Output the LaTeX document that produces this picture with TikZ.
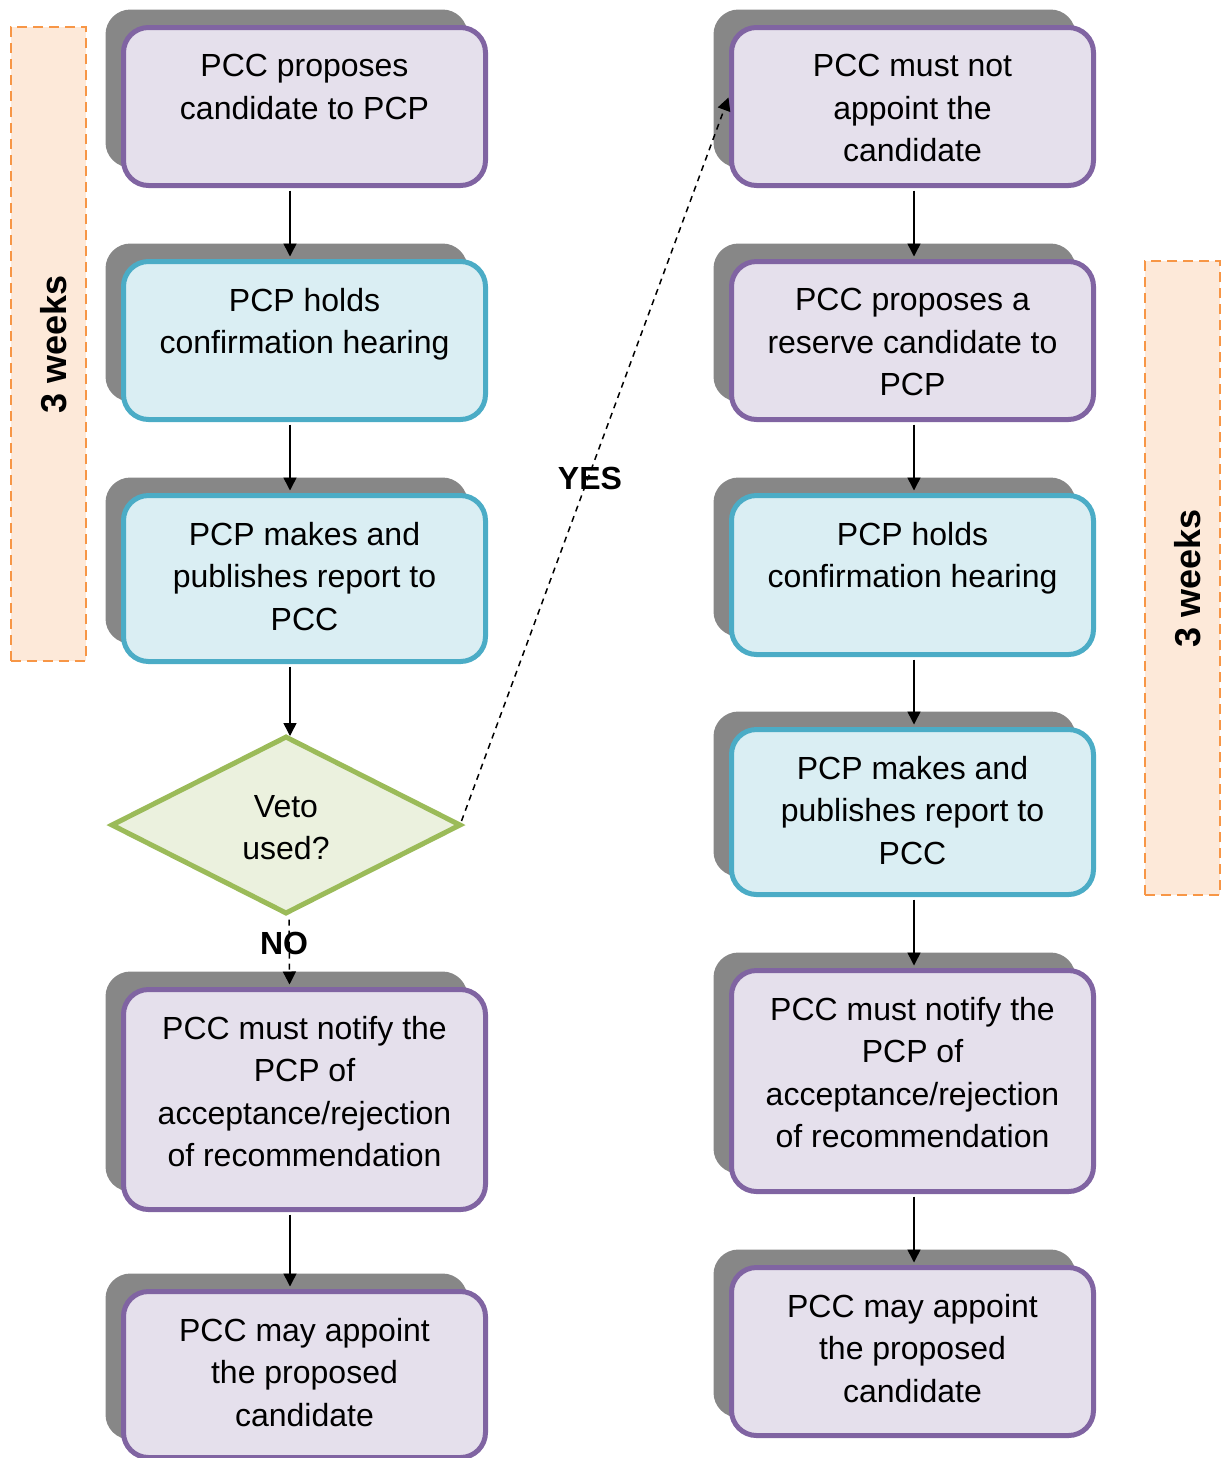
\documentclass[tikz,border=0pt]{standalone}
\usepackage{fontspec}
\setmainfont{Liberation Sans}
\usetikzlibrary{shapes.geometric,arrows.meta,shadows}
\definecolor{pstroke}{HTML}{8064A2}
\definecolor{pfill}{HTML}{E5E0EC}
\definecolor{bstroke}{HTML}{4BACC6}
\definecolor{bfill}{HTML}{DAEEF3}
\definecolor{gstroke}{HTML}{9BBB59}
\definecolor{gfill}{HTML}{EBF1DE}
\definecolor{ostroke}{HTML}{F79646}
\definecolor{ofill}{HTML}{FDE9D9}
\definecolor{shadowgray}{HTML}{878787}
\tikzset{
  flowbox/.style={rectangle, rounded corners=12.5pt, line width=2.5pt, minimum width=181pt, inner sep=0pt,
    general shadow={shadow xshift=-9pt, shadow yshift=9pt, fill=shadowgray}},
  purplebox/.style={flowbox, draw=pstroke, fill=pfill},
  bluebox/.style={flowbox, draw=bstroke, fill=bfill},
  decision/.style={diamond, draw=gstroke, fill=gfill, line width=2.5pt, inner sep=0pt, minimum width=175pt, minimum height=89pt},
  txt/.style={align=center, inner sep=0pt, font=\fontsize{16}{21.15}\selectfont},
  lbl/.style={inner sep=0pt, font=\fontsize{16}{19}\selectfont\bfseries},
  weekbox/.style={draw=ostroke, fill=ofill, line width=1pt, dash pattern=on 5pt off 3pt, inner sep=0pt, minimum width=37.5pt},
  weektxt/.style={inner sep=0pt, rotate=90, font=\fontsize{18}{20}\selectfont\bfseries},
  arr/.style={line width=0.75pt, -{Triangle[length=6.5pt,width=6.5pt]}},
  darr/.style={arr, dash pattern=on 3pt off 2.5pt},
}
\begin{document}
\begin{tikzpicture}[x=0.5pt,y=-0.5pt]
\useasboundingbox (0,0) rectangle (1221,1458);
\clip (0,0) rectangle (1221,1458);

% week brackets
\node[weekbox, minimum height=317pt] (W1) at (48,344) {};
\node[weektxt] (W1t) at (54,344) {3 weeks};
\node[weekbox, minimum height=317pt] (W2) at (1182.5,578) {};
\node[weektxt] (W2t) at (1188,578) {3 weeks};

% left column
\node[purplebox, minimum height=79pt] (L1) at (304.5,106.5) {};
\node[txt, anchor=north] (L1t) at ([yshift=-14.5pt]L1.north) {PCC proposes\\candidate to PCP};
\node[bluebox, minimum height=79pt] (L2) at (304.5,340.5) {};
\node[txt, anchor=north] (L2t) at ([yshift=-14.5pt]L2.north) {PCP holds\\confirmation hearing};
\node[bluebox, minimum height=83pt] (L3) at (304.5,578.5) {};
\node[txt, anchor=north] (L3t) at ([yshift=-14.5pt]L3.north) {PCP makes and\\publishes report to\\PCC};
\node[decision] (D) at (286,825) {};
\node[txt] (Dt) at (286,827.5) {Veto\\used?};
\node[purplebox, minimum height=110pt] (L4) at (304.5,1099.5) {};
\node[txt, anchor=north] (L4t) at ([yshift=-14.5pt]L4.north) {PCC must notify the\\PCP of\\acceptance/rejection\\of recommendation};
\node[purplebox, minimum height=83pt] (L5) at (304.5,1374.5) {};
\node[txt, anchor=north] (L5t) at ([yshift=-14.5pt]L5.north) {PCC may appoint\\the proposed\\candidate};

% right column
\node[purplebox, minimum height=79pt] (R1) at (912.5,106.5) {};
\node[txt, anchor=north] (R1t) at ([yshift=-14.5pt]R1.north) {PCC must not\\appoint the\\candidate};
\node[purplebox, minimum height=79pt] (R2) at (912.5,340.5) {};
\node[txt, anchor=north] (R2t) at ([yshift=-14.5pt]R2.north) {PCC proposes a\\reserve candidate to\\PCP};
\node[bluebox, minimum height=79.5pt] (R3) at (912.5,575) {};
\node[txt, anchor=north] (R3t) at ([yshift=-14.5pt]R3.north) {PCP holds\\confirmation hearing};
\node[bluebox, minimum height=82.5pt] (R4) at (912.5,812) {};
\node[txt, anchor=north] (R4t) at ([yshift=-14.5pt]R4.north) {PCP makes and\\publishes report to\\PCC};
\node[purplebox, minimum height=110.5pt] (R5) at (912.5,1081) {};
\node[txt, anchor=north] (R5t) at ([yshift=-14.5pt]R5.north) {PCC must notify the\\PCP of\\acceptance/rejection\\of recommendation};
\node[purplebox, minimum height=84pt] (R6) at (912.5,1351.5) {};
\node[txt, anchor=north] (R6t) at ([yshift=-14.5pt]R6.north) {PCC may appoint\\the proposed\\candidate};

% left connectors
\draw[arr] ([xshift=-7.25pt,yshift=-1.25pt]L1.south) -- ([xshift=-7.25pt,yshift=1.25pt]L2.north);
\draw[arr] ([xshift=-7.25pt,yshift=-1.25pt]L2.south) -- ([xshift=-7.25pt,yshift=1.25pt]L3.north);
\draw[arr] ([xshift=-7.25pt,yshift=-1.25pt]L3.south) -- ([xshift=-7.25pt,yshift=-1.25pt]L3.south |- D.north);
\draw[darr] ([xshift=1.5pt,yshift=-1.5pt]D.south) -- ([xshift=-7.5pt,yshift=1.25pt]L4.north);
\draw[arr] ([xshift=-7.25pt,yshift=-1.25pt]L4.south) -- ([xshift=-7.25pt,yshift=1.25pt]L5.north);
\draw[darr] ([xshift=-1pt,yshift=2pt]D.east) -- ([xshift=-0.25pt,yshift=4.5pt]R1.west);

% right connectors
\draw[arr] ([xshift=0.75pt,yshift=-1.25pt]R1.south) -- ([xshift=0.75pt,yshift=1.25pt]R2.north);
\draw[arr] ([xshift=0.75pt,yshift=-1.25pt]R2.south) -- ([xshift=0.75pt,yshift=1.25pt]R3.north);
\draw[arr] ([xshift=0.75pt,yshift=-1.25pt]R3.south) -- ([xshift=0.75pt,yshift=1.25pt]R4.north);
\draw[arr] ([xshift=0.75pt,yshift=-1.25pt]R4.south) -- ([xshift=0.75pt,yshift=1.25pt]R5.north);
\draw[arr] ([xshift=0.75pt,yshift=-1.25pt]R5.south) -- ([xshift=0.75pt,yshift=1.25pt]R6.north);

% labels
\node[lbl] (yes) at (590,478) {YES};
\node[lbl] (no) at (284,943) {NO};
\end{tikzpicture}
\end{document}
